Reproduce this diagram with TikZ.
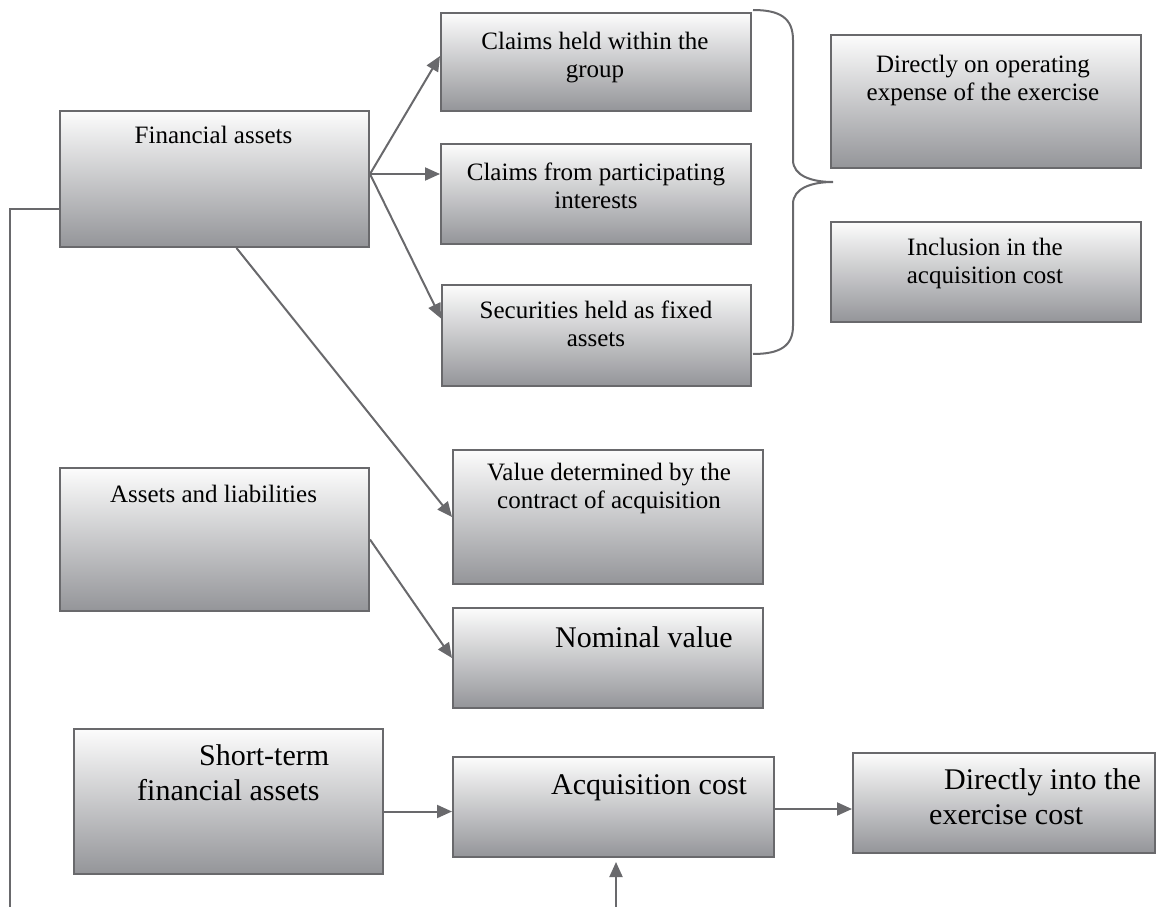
\documentclass[tikz,border=0pt]{standalone}
\usepackage{fontspec}
\setmainfont{Liberation Serif}
\usetikzlibrary{arrows.meta,calc}
\definecolor{edge}{RGB}{105,105,108}
\definecolor{shtop}{RGB}{252,252,252}
\definecolor{shbot}{RGB}{148,149,153}
\tikzset{
 box/.style={draw=edge, line width=2pt, top color=shtop, bottom color=shbot, inner sep=0pt, anchor=north west},
 txt/.style={inner sep=0pt, font=\fontsize{25}{28}\selectfont},
 big/.style={inner sep=0pt, font=\fontsize{30}{35}\selectfont},
 conn/.style={draw=edge, line width=2pt, -{Triangle[length=15pt,width=13pt]}},
 plain/.style={draw=edge, line width=2pt},
}
\begin{document}
\begin{tikzpicture}[x=1pt,y=-1pt]
\useasboundingbox (0,0) rectangle (1157,907);
% boxes
\node[box, minimum width=309pt, minimum height=136pt] (fa) at (59,110) {};
\node[box, minimum width=310pt, minimum height=98pt] (cg) at (440,12) {};
\node[box, minimum width=310pt, minimum height=100pt] (cp) at (440,143) {};
\node[box, minimum width=309pt, minimum height=101pt] (sf) at (441,284) {};
\node[box, minimum width=310pt, minimum height=133pt] (do) at (830,34) {};
\node[box, minimum width=310pt, minimum height=100pt] (in) at (830,221) {};
\node[box, minimum width=310pt, minimum height=134pt] (vd) at (452,449) {};
\node[box, minimum width=309pt, minimum height=143pt] (al) at (59,467) {};
\node[box, minimum width=310pt, minimum height=100pt] (nv) at (452,607) {};
\node[box, minimum width=309pt, minimum height=145pt] (st) at (73,728) {};
\node[box, minimum width=321pt, minimum height=100pt] (ac) at (452,756) {};
\node[box, minimum width=302pt, minimum height=100pt] (de) at (852,752) {};
% texts
\node[txt, anchor=base] (fa-t) at (213.5,143) {Financial assets};
\node[txt, anchor=base] (cg-t) at (595,50) {\begin{tabular}[t]{@{}c@{}}Claims held within the\\group\end{tabular}};
\node[txt, anchor=base] (cp-t) at (596,180) {\begin{tabular}[t]{@{}c@{}}Claims from participating\\interests\end{tabular}};
\node[txt, anchor=base] (sf-t) at (596,318) {\begin{tabular}[t]{@{}c@{}}Securities held as fixed\\assets\end{tabular}};
\node[txt, anchor=base] (do-t) at (983,73) {\begin{tabular}[t]{@{}c@{}}Directly on operating\\expense of the exercise\end{tabular}};
\node[txt, anchor=base] (in-t) at (985,255) {\begin{tabular}[t]{@{}c@{}}Inclusion in the\\acquisition cost\end{tabular}};
\node[txt, anchor=base] (vd-t) at (609,480) {\begin{tabular}[t]{@{}c@{}}Value determined by the\\contract of acquisition\end{tabular}};
\node[txt, anchor=base] (al-t) at (213.5,502) {Assets and liabilities};
\node[big, anchor=base west] (nv-t) at (555,647) {Nominal value};
\node[big, anchor=base west] (st-t) at (137,765) {\begin{tabular}[t]{@{}l@{}}\hspace{62pt}Short-term\\financial assets\end{tabular}};
\node[big, anchor=base west] (ac-t) at (551,794) {Acquisition cost};
\node[big, anchor=base west] (de-t) at (929,789) {\begin{tabular}[t]{@{}l@{}}\hspace{15pt}Directly into the\\exercise cost\end{tabular}};
% connectors
\coordinate (fao) at ($(fa.east)+(0,-5)$);
\draw[conn] (fao) -- ($(cg.west)+(0,-6)$);
\draw[conn] (fao) -- (fao -| cp.west);
\draw[conn] (fao) -- ($(sf.west)+(0,-17)$);
\draw[conn] ($(fa.south)+(22,0)$) -- (vd.west);
\draw[conn] (al.east) -- (nv.west);
\coordinate (sto) at ($(st.east)+(0,10)$);
\draw[conn] (sto) -- (sto -| ac.west);
\coordinate (aco) at ($(ac.east)+(0,2)$);
\draw[conn] (aco) -- (aco -| de.west);
\coordinate (bot) at (616,907);
\draw[conn, shorten >=4pt] (bot) -- (bot |- ac.south);
\coordinate (lb) at (10,907);
\draw[plain] ($(fa.west)+(0,30)$) -| (lb);
% brace
\draw[plain] (753,10) .. controls (780,10) and (793,18) .. (793,40) -- (793,160)
  .. controls (793,176) and (812,182) .. (833,182)
  .. controls (812,182) and (793,188) .. (793,204) -- (793,326)
  .. controls (793,346) and (780,354) .. (753,354);
\end{tikzpicture}
\end{document}
